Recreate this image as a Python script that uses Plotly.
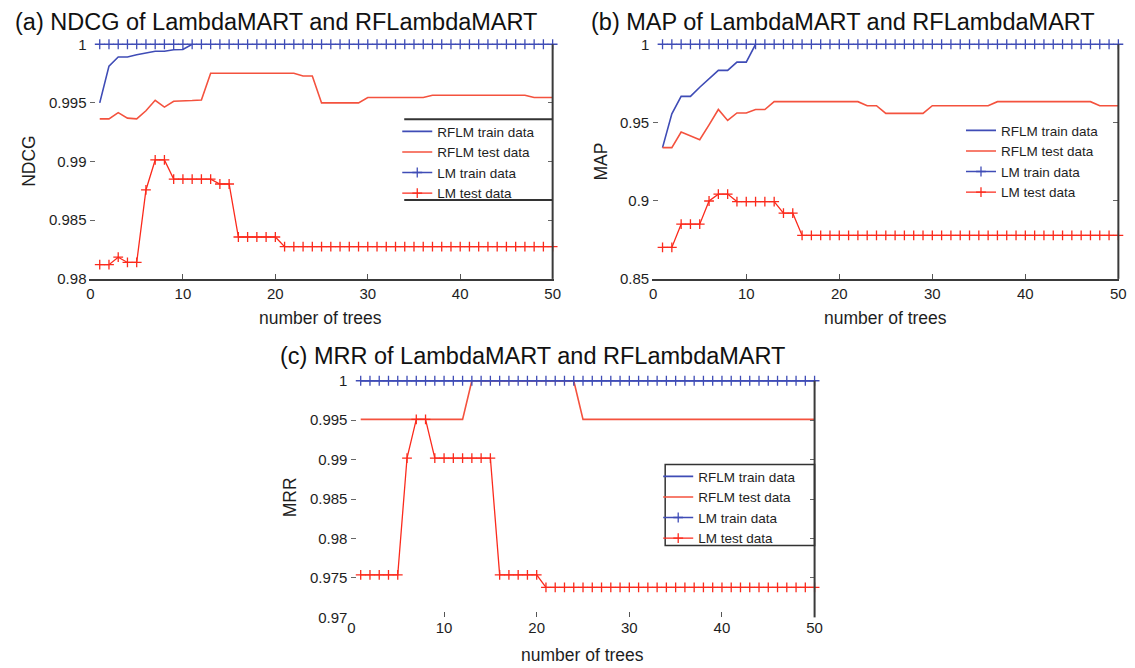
import plotly.graph_objects as go

trees = list(range(1, 51))

# (a) NDCG
ndcg_rflm_train = [0.9950, 0.99814, 0.99892, 0.99892, 0.9991, 0.99925, 0.9994, 0.9994, 0.99953, 0.99955] + [1.0] * 40
ndcg_rflm_test = ([0.99364, 0.99364, 0.99417, 0.9937, 0.99364, 0.99433, 0.99522, 0.99464, 0.99514, 0.99514, 0.9952, 0.99525]
                  + [0.99753] * 10 + [0.9973] * 2 + [0.995] * 5 + [0.99546] * 7 + [0.99566] * 11 + [0.99546] * 3)
ndcg_lm_train = [1.0] * 50
ndcg_lm_test = ([0.98121, 0.98121, 0.98185, 0.9814, 0.9814, 0.98758, 0.99014, 0.99014]
                + [0.98851] * 5 + [0.98809] * 2 + [0.98357] * 5 + [0.98275] * 30)

# (b) MAP
map_rflm_train = [0.9339, 0.9555, 0.9667, 0.9667, 0.9725, 0.978, 0.9833, 0.9833, 0.9886, 0.9886] + [1.0] * 40
map_rflm_test = ([0.9339, 0.9339, 0.9439, 0.9413, 0.939, 0.9485, 0.9583, 0.9513, 0.9561, 0.9561, 0.9583, 0.9583]
                 + [0.9633] * 10 + [0.9607] * 2 + [0.9558] * 5 + [0.9607] * 7 + [0.9633] * 11 + [0.9607] * 3)
map_lm_train = [1.0] * 50
map_lm_test = ([0.8701, 0.8701, 0.885, 0.885, 0.885, 0.8998, 0.9042, 0.9042]
               + [0.8994] * 5 + [0.892] * 2 + [0.8778] * 35)

# (c) MRR
mrr_rflm_train = [1.0] * 50
mrr_rflm_test = [0.9951] * 12 + [1.0] * 12 + [0.9951] * 26
mrr_lm_train = [1.0] * 50
mrr_lm_test = [0.9754] * 5 + [0.9902, 0.9951, 0.9951] + [0.9902] * 7 + [0.9754] * 5 + [0.9738] * 30

series_names = ["RFLM train data", "RFLM test data", "LM train data", "LM test data"]
titles = ["(a) NDCG of LambdaMART and RFLambdaMART",
          "(b) MAP of LambdaMART and RFLambdaMART",
          "(c) MRR of LambdaMART and RFLambdaMART"]
ylabels = ["NDCG", "MAP", "MRR"]
xlabel = "number of trees"
xticks = [0, 10, 20, 30, 40, 50]
yticks_a = [0.98, 0.985, 0.99, 0.995, 1.0]
yticks_b = [0.85, 0.9, 0.95, 1.0]
yticks_c = [0.97, 0.975, 0.98, 0.985, 0.99, 0.995, 1.0]

W, H = 1135, 668
# where the paper area lands in the captured page (measured)
PX0, PW = 8.2, 1127.5
PY0, PH = 16.7, 652.0
BLUE = "#3f4cb6"
RED_LINE = "#f4523e"
RED_MARK = "#fb2a1c"
FONT = "Liberation Sans, Arial, sans-serif"
TXT = "#1e1e1e"


def px_x(p):
    return (p - PX0) / PW


def px_y(p):
    return 1 - (p - PY0) / PH


fig = go.Figure()

panels = [
    (dict(x="x", y="y"), "legend", [ndcg_rflm_train, ndcg_rflm_test, ndcg_lm_train, ndcg_lm_test]),
    (dict(x="x2", y="y2"), "legend2", [map_rflm_train, map_rflm_test, map_lm_train, map_lm_test]),
    (dict(x="x3", y="y3"), "legend3", [mrr_rflm_train, mrr_rflm_test, mrr_lm_train, mrr_lm_test]),
]

for axes, leg, data in panels:
    styles = [
        dict(mode="lines", line=dict(color=BLUE, width=1.6)),
        dict(mode="lines", line=dict(color=RED_LINE, width=1.6)),
        dict(mode="lines+markers", line=dict(color=BLUE, width=1.3),
             marker=dict(symbol="cross-thin", size=7, line=dict(color=BLUE, width=1.3))),
        dict(mode="lines+markers", line=dict(color=RED_MARK, width=1.3),
             marker=dict(symbol="cross-thin", size=7, line=dict(color=RED_MARK, width=1.3))),
    ]
    for name, vals, st in zip(series_names, data, styles):
        fig.add_trace(go.Scatter(x=trees, y=vals, name=name, xaxis=axes["x"], yaxis=axes["y"],
                                 legend=leg, cliponaxis=False, **st))

# domains in page pixels
dom = {
    "a": ([87, 551], [44, 279]),
    "b": ([652, 1119], [44, 279]),
    "c": ([349, 814], [381, 618]),
}

tickfont = dict(family=FONT, size=15, color=TXT)


def xaxis_cfg(d, showline):
    return dict(domain=[px_x(d[0][0]), px_x(d[0][1])], range=[0, 50], tickvals=xticks,
                ticks="inside", ticklen=5, tickcolor="#555", showgrid=False, zeroline=False,
                showline=showline, linecolor="#3a3a3a", linewidth=2, tickfont=tickfont)


def yaxis_cfg(d, rng, tv):
    return dict(domain=[px_y(d[1][1]), px_y(d[1][0])], range=rng, tickvals=tv,
                ticks="inside", ticklen=5, tickcolor="#666", showgrid=False, zeroline=False,
                showline=True, linecolor="rgba(0,0,0,0)", mirror="ticks", tickfont=tickfont)


legfont = dict(family=FONT, size=13.5, color=TXT)
legcommon = dict(xanchor="left", yanchor="top", bgcolor="rgba(255,255,255,0)",
                 font=legfont, tracegroupgap=0, itemwidth=30)
fig.update_layout(
    width=W, height=H, margin=dict(l=0, r=0, t=0, b=0),
    paper_bgcolor="white", plot_bgcolor="white",
    font=dict(family=FONT, color=TXT),
    xaxis=dict(anchor="y", **xaxis_cfg(dom["a"], True)),
    yaxis=dict(anchor="x", **yaxis_cfg(dom["a"], [0.98, 1.0], yticks_a)),
    xaxis2=dict(anchor="y2", **xaxis_cfg(dom["b"], True)),
    yaxis2=dict(anchor="x2", **yaxis_cfg(dom["b"], [0.85, 1.0], yticks_b)),
    xaxis3=dict(anchor="y3", **xaxis_cfg(dom["c"], False)),
    yaxis3=dict(anchor="x3", **yaxis_cfg(dom["c"], [0.97, 1.0], yticks_c)),
    legend=dict(x=px_x(395), y=px_y(116), **legcommon),
    legend2=dict(x=px_x(961), y=px_y(115), **legcommon),
    legend3=dict(x=px_x(657), y=px_y(461.5), **legcommon),
)

shapes = []
for xr, yr in [("x domain", "y domain"), ("x2 domain", "y2 domain"), ("x3 domain", "y3 domain")]:
    shapes.append(dict(type="line", xref=xr, yref=yr, x0=1, x1=1, y0=0, y1=1,
                       line=dict(color="#3a3a3a", width=2)))
# legend (a) top/bottom rules
for yy in (119, 200):
    shapes.append(dict(type="line", xref="paper", yref="paper", x0=px_x(402), x1=px_x(551),
                       y0=px_y(yy), y1=px_y(yy), line=dict(color="#333", width=2)))
# legend (c) box
shapes.append(dict(type="rect", xref="paper", yref="paper", x0=px_x(664), x1=px_x(814),
                   y0=px_y(546), y1=px_y(465), line=dict(color="#333", width=1.5)))
fig.update_layout(shapes=shapes)

ann = []
title_pos = [(9, 22), (588, 22), (275, 356)]
for t, (tx, ty) in zip(titles, title_pos):
    ann.append(dict(text=t, x=px_x(tx), y=px_y(ty), xref="paper", yref="paper",
                    xanchor="left", yanchor="middle", showarrow=False,
                    font=dict(family=FONT, size=23.5, color="#111")))
ylab_pos = [(25, 161), (600, 161), (287, 498)]
for t, (tx, ty) in zip(ylabels, ylab_pos):
    ann.append(dict(text=t, x=px_x(tx), y=px_y(ty), xref="paper", yref="paper",
                    xanchor="center", yanchor="middle", textangle=-90, showarrow=False,
                    font=dict(family=FONT, size=17.5, color=TXT)))
xlab_pos = [(318, 318), (885, 318), (581, 656)]
for tx, ty in xlab_pos:
    ann.append(dict(text=xlabel, x=px_x(tx), y=px_y(ty), xref="paper", yref="paper",
                    xanchor="center", yanchor="middle", showarrow=False,
                    font=dict(family=FONT, size=17.5, color=TXT)))
fig.update_layout(annotations=ann)

fig.write_html("out.html")
